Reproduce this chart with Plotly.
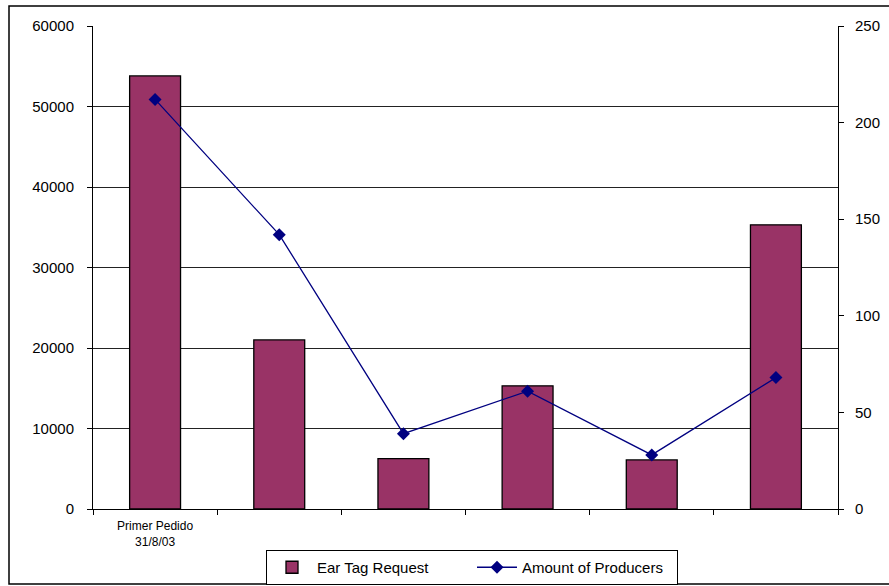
import plotly.graph_objects as go

# Order batches (only the first one carries a label)
categories = ["Primer Pedido<br>31/8/03", " ", "  ", "   ", "    ", "     "]
ear_tag_request = [53800, 21000, 6250, 15300, 6100, 35300]
amount_of_producers = [212, 142, 39, 61, 28, 68]

left_ticks = [0, 10000, 20000, 30000, 40000, 50000, 60000]
right_ticks = [0, 50, 100, 150, 200, 250]

W, H = 889, 586
L, R, T, B = 93, 51, 26, 77
pw, ph = W - L - R, H - T - B

font = dict(family="Liberation Sans, Arial, sans-serif", size=13, color="#000")

fig = go.Figure()
fig.add_trace(go.Bar(
    x=categories, y=ear_tag_request, name="Ear Tag Request",
    marker=dict(color="#993366", line=dict(color="#000", width=1.3)),
    yaxis="y",
))
fig.add_trace(go.Scatter(
    x=categories, y=amount_of_producers, name="Amount of Producers",
    mode="lines+markers",
    line=dict(color="#000080", width=1.3),
    marker=dict(symbol="diamond", size=10, color="#000080"),
    yaxis="y2",
))

def px_x(v):
    return (v - L) / pw

def px_y(v):
    return (H - B - v) / ph

fig.update_layout(
    width=W, height=H,
    margin=dict(l=L, r=R, t=T, b=B, pad=0, autoexpand=False),
    paper_bgcolor="white", plot_bgcolor="white",
    font=font,
    bargap=0.59,
    showlegend=True,
    legend=dict(
        orientation="h", x=px_x(266), xanchor="left",
        y=px_y(585), yanchor="bottom",
        bordercolor="#000", borderwidth=1, bgcolor="white",
        font=dict(family=font["family"], size=15, color="#000"),
        itemwidth=40, tracegroupgap=0,
        entrywidth=150, entrywidthmode="pixels",
        valign="middle",
    ),
    xaxis=dict(
        type="category", tickson="boundaries",
        ticks="outside", ticklen=5, tickcolor="#000",
        showline=True, linecolor="#000", linewidth=1,
        showgrid=False, zeroline=False, ticklabelstandoff=6,
        tickfont=dict(family=font["family"], size=12, color="#000"),
        range=[-0.5, 5.5],
    ),
    yaxis=dict(
        range=[0, 60000], tickvals=left_ticks,
        ticktext=[str(v) for v in left_ticks],
        ticks="outside", ticklen=5, tickcolor="#000",
        showline=True, linecolor="#000", linewidth=1,
        showgrid=True, gridcolor="#222", gridwidth=1,
        zeroline=False, ticklabelstandoff=10,
        tickfont=dict(family=font["family"], size=15, color="#000"),
    ),
    yaxis2=dict(
        range=[0, 250], tickvals=right_ticks,
        overlaying="y", side="right",
        ticks="outside", ticklen=5, tickcolor="#000",
        showline=True, linecolor="#000", linewidth=1,
        showgrid=False, zeroline=False, ticklabelstandoff=8,
        tickfont=dict(family=font["family"], size=15, color="#000"),
    ),
    shapes=[dict(
        type="rect", xref="paper", yref="paper",
        x0=px_x(9), x1=px_x(895), y0=px_y(584), y1=px_y(6),
        line=dict(color="#000", width=1.5), fillcolor="rgba(0,0,0,0)",
        layer="below",
    )],
)

fig.write_html("out.html")
